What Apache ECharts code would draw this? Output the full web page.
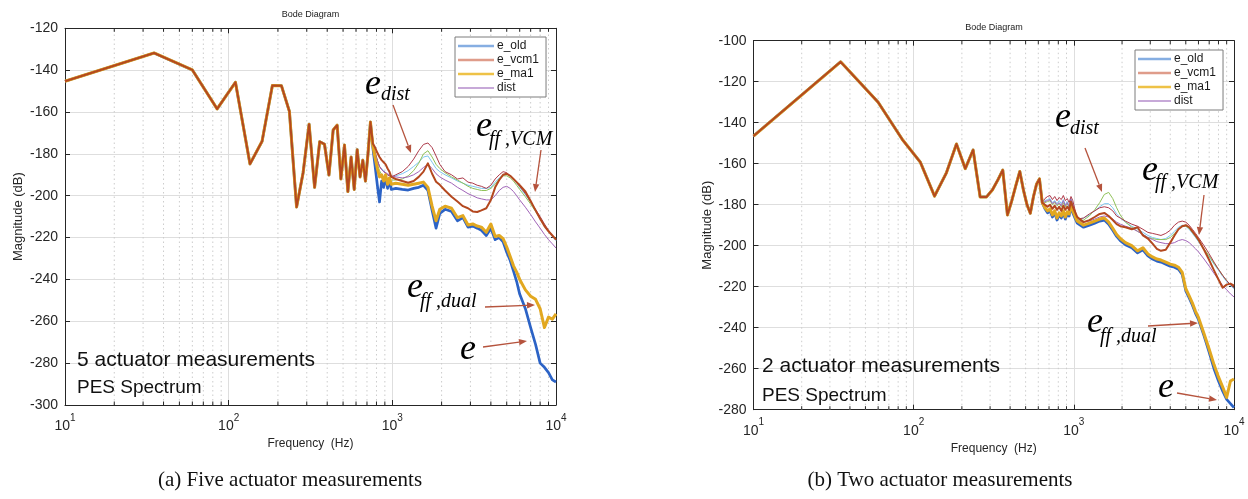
<!DOCTYPE html>
<html>
<head>
<meta charset="utf-8">
<script src="https://cdn.jsdelivr.net/npm/echarts@6/dist/echarts.min.js"></script>
<style>
  html, body { margin: 0; padding: 0; background: #ffffff; }
  #chart { width: 1248px; height: 499px; }
</style>
</head>
<body>
<div id="chart"></div>
<script>
// ---------------- data: PES spectra (dB) ----------------
// (a) five actuator measurements: all traces coincide below ~750 Hz
const fLowA = [10, 35, 60, 85, 110, 135, 160, 185, 210, 235, 260, 285, 310, 335, 360, 385, 410, 435, 460, 485,
               510, 535, 560, 585, 610, 635, 660, 685, 710, 735];
const commonA = [-145.3, -131.8, -139.9, -158.5, -145.8, -184.8, -174.0, -147.3, -147.4, -159.7,
                 -205.4, -189.0, -165.8, -196.0, -174.2, -175.4, -190.1, -168.6, -166.3, -192.0,
                 -175.8, -198.0, -181.5, -197.0, -178.0, -191.0, -183.0, -193.0, -180.0, -164.8];
const fHighA = [760, 785, 810, 835, 860, 885, 910, 935, 960, 985,
                1050, 1150, 1250, 1350, 1450, 1550, 1650, 1750, 1850, 1950,
                2100, 2300, 2500, 2700, 2900, 3100, 3300, 3500, 3750,
                4000, 4250, 4500, 4750, 5000, 5250, 5500, 5750,
                6000, 6500, 7000, 7500, 8000, 8500, 9000, 9500, 10000];
const eOldA = [-177, -186, -195, -203, -193, -196, -191, -196.5, -192.5, -197,
               -196.5, -197, -197.3, -196.5, -196, -195, -197.5, -207, -215.5, -208.5,
               -206.5, -207.5, -212, -210.5, -215, -214.5, -215.5, -216.5, -219,
               -215.5, -221, -220, -222, -227, -231, -236, -241,
               -247, -254, -263, -271, -280, -282, -284.5, -288, -289];
const eVcm1A = [-175, -177, -179.5, -181.5, -183, -184, -185, -187, -188.5, -191,
                -192, -193, -193.8, -193, -191, -188.5, -184.5, -189.5, -193.3, -194.8,
                -197.5, -200.5, -202.8, -205, -206, -207.5, -207.8, -207, -206,
                -202, -196, -192.5, -190, -189.5, -190.5, -192, -193.5,
                -195, -198, -202.5, -207, -211, -214.5, -217, -219, -221];
const eMa1A = [-176, -182, -187, -191, -190, -193, -190, -194.5, -191.5, -194.5,
               -194, -194.5, -195, -194.5, -194, -193.5, -196, -205, -212, -206.5,
               -205, -206, -210.5, -209.5, -214, -213.5, -214.5, -215, -217.5,
               -213.5, -219.5, -219, -220.5, -224.5, -229, -233.5, -236.5,
               -240, -245, -248, -249.5, -254, -263, -258, -259, -256.5];
const distA = [-176, -180, -183.5, -186, -187.5, -188.5, -189, -189.5, -190, -190.5,
               -191, -191.5, -191, -190, -188.5, -186.5, -185, -187, -189.5, -191,
               -192.5, -194, -196, -197.5, -199, -200, -201, -201.5, -202,
               -202, -200, -197.5, -196, -195.5, -196.5, -198, -200,
               -202, -205.5, -209, -212.5, -215.5, -218.5, -221, -223, -225];
const run2A = [-176, -180, -183, -186, -187, -188, -189, -190, -190.5, -191,
               -190.5, -189.5, -188, -186, -184, -181.5, -181, -184, -187, -188.5,
               -190, -191.5, -193, -194, -195, -195.5, -196, -196.5, -196.5,
               -196, -193.5, -191.5, -190, -189.5, -190.5, -192, -194,
               -196, -199.5, -203, -207, -210.5, -214, -217, -219.5, -221.5];
const run3A = [-176, -181, -185, -188, -190, -191, -191.5, -192, -192.5, -192.5,
               -192.5, -192, -190.5, -188, -184.5, -180, -178.5, -181.5, -185, -187,
               -189, -191, -192.5, -194, -195.5, -196.5, -197, -197.5, -197.5,
               -196.5, -194.5, -192, -190.5, -190.5, -191.5, -193, -195,
               -197, -200.5, -204, -207.5, -211, -214.5, -217, -219, -220.5];
const run4A = [-175, -179, -183, -186, -187.5, -188.5, -189, -190, -190.5, -191,
               -190, -188.5, -186, -182.5, -178.5, -175.5, -174.8, -177, -181, -185,
               -188.5, -190, -192, -191.5, -193.5, -194, -195, -195.5, -196.5,
               -195, -192, -190, -188.5, -189, -190.5, -192, -193.5,
               -195.5, -199, -203, -206.5, -210, -213.5, -216.5, -219, -221];

// (b) two actuator measurements: all traces coincide below ~650 Hz
const fLowB = [10, 35, 60, 85, 110, 135, 160, 185, 210, 235, 260, 285, 310, 335, 360, 385, 410, 435, 460, 485,
               510, 535, 560, 585, 610, 635];
const commonB = [-146.5, -110.3, -130.0, -148.2, -159.2, -175.8, -164.5, -150.4, -162.4, -153.3,
                 -176.2, -176.2, -172.8, -168.0, -163.1, -185.0, -178.0, -170.5, -163.8, -173.0,
                 -180.0, -184.2, -176.0, -170.0, -167.4, -179.0];
const fHighB = [660, 685, 710, 735, 760, 785, 810, 835, 860, 885, 910, 935, 960, 985,
                1050, 1150, 1250, 1350, 1450, 1550, 1650, 1750, 1850, 1950,
                2100, 2300, 2500, 2700, 2900, 3100, 3300, 3500, 3750,
                4000, 4250, 4500, 4750, 5000, 5250, 5500, 5750,
                6000, 6500, 7000, 7500, 8000, 8500, 9000, 9500, 10000];
const eOldB = [-182, -184, -183, -186, -184, -187.5, -185, -186.5, -184, -187, -184.5, -185.5, -180.5, -184,
               -189, -191, -190, -189, -188, -187.5, -189.5, -192.5, -195.5, -197.5,
               -199.5, -201, -203.5, -202, -205, -206.5, -207.5, -208, -209,
               -210, -210.5, -211.5, -214, -222, -225.5, -229, -233,
               -236, -244, -252, -260, -266, -271, -275, -277, -279];
const eVcm1B = [-180, -181, -180, -182, -180.5, -182.5, -181, -183, -180.5, -182.5, -181, -182.5, -178.5, -181,
                -186, -188.5, -187.5, -186, -184.5, -184, -185.5, -187.5, -189.5, -190.5,
                -191, -192, -191, -195, -196.5, -199, -201.5, -202.5, -202,
                -198.5, -195, -192, -190.5, -190, -191, -193, -195,
                -197, -202, -207, -212, -216.5, -220.5, -219, -218.5, -219.5];
const eMa1B = [-181.5, -183, -182, -185, -183, -186.5, -184, -185.5, -183, -186, -183.5, -184.5, -179.5, -183,
               -188, -190, -189, -188, -187, -186.5, -188.5, -191.5, -194.5, -196.5,
               -198.5, -200, -202.5, -201, -204, -205.5, -206.5, -207, -208,
               -209, -209.5, -210.5, -213, -221, -224.5, -228, -232,
               -235, -243, -250.5, -258, -264, -269, -274, -266, -265];
const distB = [-178.5, -178, -177.5, -179.5, -178.5, -180, -179, -180.5, -178, -180.5, -179, -181, -177.5, -180,
               -188, -188.5, -188, -187, -186, -185.5, -186, -187, -188.5, -189.5,
               -190.5, -191.5, -193, -194.5, -196, -197, -198, -198.5, -199,
               -199, -198.5, -197.5, -197, -197.5, -198.5, -200, -201.5,
               -203, -206.5, -210, -213.5, -216.5, -219.5, -221.5, -223.5, -225];
const run2B = [-178, -177.5, -177, -179, -178, -179.5, -178, -179.5, -177.5, -180, -178.5, -180.5, -177, -179.5,
               -187.5, -186.5, -185, -183, -181, -179.5, -179.5, -181.5, -184.5, -186.5,
               -188.5, -190.5, -192, -193.5, -195, -196, -196.5, -197, -196.5,
               -195, -193, -191, -190, -190.5, -192, -194, -196,
               -198, -202, -205.5, -209, -212, -215, -217.5, -219.5, -221];
const run3B = [-179, -178.5, -178, -180, -179, -180.5, -179.5, -181, -179, -181, -179.5, -181.5, -178, -180.5,
               -188, -187.5, -185.5, -182.5, -179, -175, -174, -177, -181.5, -185,
               -188.5, -191, -193, -194.5, -196, -196.5, -197, -197, -197,
               -196, -194, -192, -190.5, -190.5, -191.5, -193.5, -195.5,
               -197.5, -201.5, -205, -208.5, -211.5, -214.5, -217, -219, -220.5];
const run4B = [-177, -176, -175.5, -177.5, -176, -178, -176.5, -177.5, -175.5, -178, -177, -179, -176, -178,
               -187, -186.5, -184.5, -183, -181.5, -181, -181.5, -183, -185.5, -186.5,
               -188, -189.5, -190.5, -192, -193.5, -194, -194.5, -195, -194,
               -192.5, -190, -188.5, -188, -188.5, -190, -192, -194,
               -196, -200, -204, -208, -211.5, -214.5, -217, -219, -220.5];

// axis ticks and labels
const decadeExponents = ['1', '2', '3', '4'];
const minorTicks = [20, 30, 40, 50, 60, 70, 80, 90, 200, 300, 400, 500, 600, 700, 800, 900,
                    2000, 3000, 4000, 5000, 6000, 7000, 8000, 9000];
const legendNames = ['e_old', 'e_vcm1', 'e_ma1', 'dist'];

// ---------------- styling ----------------
const SANS = '"Liberation Sans", Arial, Helvetica, sans-serif';
const SERIF = '"Liberation Serif", "Times New Roman", serif';
const AXIS = '#262626';
const ARROW = '#b5533d';
const C = {
  blue: '#2c63c6', red: '#b4481f', yellow: '#e2a820', purple: '#a063b8',
  lightblue: '#7cc6ef', green: '#8fc158', maroon: '#ad3a4a'
};
const LEGEND_COLORS = {
  e_old: '#86aee2', e_vcm1: '#df9c8a', e_ma1: '#eec247', dist: '#b58ccb'
};
// flat bar glyphs used as legend line samples
const LEGEND_ICON_THICK = 'path://M0,0H36V2.6H0Z';
const LEGEND_ICON_THIN = 'path://M0,0H36V1.6H0Z';

const grids = [
  { left: 65, top: 28.3, width: 491, height: 376.7, yMin: -300, yMax: -120 },
  { left: 753.5, top: 40.7, width: 480.5, height: 369, yMin: -280, yMax: -100 }
];

function pairs(freqs, vals) { return freqs.map((f, i) => [f, vals[i]]); }

const panelData = [
  { fLow: fLowA, common: commonA, fHigh: fHighA,
    traces: { e_old: eOldA, e_vcm1: eVcm1A, e_ma1: eMa1A, run2: run2A, run3: run3A, run4: run4A, dist: distA } },
  { fLow: fLowB, common: commonB, fHigh: fHighB,
    traces: { e_old: eOldB, e_vcm1: eVcm1B, e_ma1: eMa1B, run2: run2B, run3: run3B, run4: run4B, dist: distB } }
];

// drawing order: thin traces underneath, then the three thick traces
const traceStyle = [
  ['run2', C.lightblue, 1], ['run3', C.green, 1], ['run4', C.maroon, 1], ['dist', C.purple, 1],
  ['e_old', C.blue, 2.7], ['e_ma1', C.yellow, 3], ['e_vcm1', C.red, 2]
];

const xAxes = [], yAxes = [], series = [];
grids.forEach((g, gi) => {
  xAxes.push({
    type: 'log', logBase: 10, min: 10, max: 10000, gridIndex: gi, position: 'bottom',
    axisLine: { show: true, onZero: false, lineStyle: { color: AXIS, width: 1 } },
    axisTick: { show: true, inside: true, length: 5, lineStyle: { color: AXIS } },
    axisLabel: {
      margin: 8, color: AXIS,
      formatter: v => '{b|10}{s|' + decadeExponents[Math.round(Math.log10(v)) - 1] + '}',
      rich: {
        b: { fontSize: 14, fontFamily: SANS, color: AXIS, lineHeight: 20, verticalAlign: 'bottom' },
        s: { fontSize: 10, fontFamily: SANS, color: AXIS, lineHeight: 20, verticalAlign: 'top' }
      }
    },
    splitLine: { show: true, lineStyle: { color: '#dedede', width: 1 } },
    name: 'Frequency  (Hz)', nameLocation: 'middle', nameGap: 31,
    nameTextStyle: { fontSize: 12, fontFamily: SANS, color: AXIS }
  });
  xAxes.push({
    type: 'log', logBase: 10, min: 10, max: 10000, gridIndex: gi, position: 'top',
    axisLine: { show: true, onZero: false, lineStyle: { color: AXIS, width: 1 } },
    axisTick: { show: true, inside: true, length: 5, lineStyle: { color: AXIS } },
    axisLabel: { show: false }, splitLine: { show: false }
  });
  yAxes.push({
    type: 'value', min: g.yMin, max: g.yMax, interval: 20, gridIndex: gi, position: 'left',
    axisLine: { show: true, onZero: false, lineStyle: { color: AXIS, width: 1 } },
    axisTick: { show: true, inside: true, length: 5, lineStyle: { color: AXIS } },
    axisLabel: { margin: 7, fontSize: 14, fontFamily: SANS, color: AXIS, formatter: v => String(v) },
    splitLine: { show: true, lineStyle: { color: '#dedede', width: 1 } },
    name: 'Magnitude (dB)', nameLocation: 'middle', nameGap: 40,
    nameTextStyle: { fontSize: 13, fontFamily: SANS, color: AXIS }
  });
  yAxes.push({
    type: 'value', min: g.yMin, max: g.yMax, interval: 20, gridIndex: gi, position: 'right',
    axisLine: { show: true, onZero: false, lineStyle: { color: AXIS, width: 1 } },
    axisTick: { show: true, inside: true, length: 5, lineStyle: { color: AXIS } },
    axisLabel: { show: false }, splitLine: { show: false }
  });

  // dotted minor grid with short inside ticks at bottom and top
  series.push({
    type: 'custom', xAxisIndex: gi * 2, yAxisIndex: gi * 2, z: 1, silent: true, clip: false,
    encode: { x: 0, y: 1 },
    data: minorTicks.map(f => [f, g.yMin]),
    renderItem: (params, api) => {
      const f = api.value(0);
      const b = api.coord([f, g.yMin]);
      const t = api.coord([f, g.yMax]);
      return {
        type: 'group', children: [
          { type: 'line', shape: { x1: b[0], y1: b[1], x2: t[0], y2: t[1] },
            style: { stroke: '#cccccc', lineWidth: 1, lineDash: [1.5, 3] } },
          { type: 'line', shape: { x1: b[0], y1: b[1], x2: b[0], y2: b[1] - 3.5 },
            style: { stroke: AXIS, lineWidth: 1 } },
          { type: 'line', shape: { x1: t[0], y1: t[1], x2: t[0], y2: t[1] + 3.5 },
            style: { stroke: AXIS, lineWidth: 1 } }
        ]
      };
    }
  });

  const pd = panelData[gi];
  const freqs = pd.fLow.concat(pd.fHigh);
  traceStyle.forEach(([name, color, width]) => {
    series.push({
      name, type: 'line', xAxisIndex: gi * 2, yAxisIndex: gi * 2,
      data: pairs(freqs, pd.common.concat(pd.traces[name])),
      symbol: 'none', showSymbol: false, z: 3,
      lineStyle: { color, width, join: 'round' }, itemStyle: { color },
      emphasis: { disabled: true }, animation: false
    });
  });
});

const legendData = legendNames.map(n => ({
  name: n,
  icon: n === 'dist' ? LEGEND_ICON_THIN : LEGEND_ICON_THICK,
  itemStyle: { color: LEGEND_COLORS[n], borderWidth: 0 }
}));
const legendBase = {
  orient: 'vertical', itemWidth: 36, itemHeight: 14, itemGap: 2, selectedMode: false,
  symbolKeepAspect: true,
  padding: [3, 7, 3, 3], borderColor: '#7c7c7c', borderWidth: 1, backgroundColor: '#ffffff',
  textStyle: { fontSize: 12, fontFamily: SANS, color: '#1a1a1a', padding: [0, 0, 0, -2] },
  data: legendData
};

// ---------------- annotations ----------------
function textEl(text, x, baseline, size, opts) {
  opts = opts || {};
  return {
    type: 'text', silent: true, z: 100,
    style: {
      text, x, y: baseline - 0.34 * size,
      font: (opts.style || 'normal') + ' ' + (opts.weight || 'normal') + ' ' + size + 'px ' + (opts.family || SANS),
      fill: opts.color || '#111111', align: opts.align || 'left', verticalAlign: 'middle'
    }
  };
}
function symbolLabel(x, baseline, sub, subX, subBaseline) {
  const out = [textEl('e', x, baseline, 36, { style: 'italic', family: SERIF, color: '#000' })];
  if (sub) out.push(textEl(sub, subX, subBaseline, 20, { style: 'italic', family: SERIF, color: '#000' }));
  return out;
}
function arrow(x1, y1, x2, y2) {
  const a = Math.atan2(y2 - y1, x2 - x1), L = 8, W = 3.2;
  const bx = x2 - L * Math.cos(a), by = y2 - L * Math.sin(a);
  const px = -Math.sin(a) * W, py = Math.cos(a) * W;
  return [
    { type: 'line', silent: true, z: 100, shape: { x1, y1, x2: bx, y2: by },
      style: { stroke: ARROW, lineWidth: 1.3 } },
    { type: 'polygon', silent: true, z: 100,
      shape: { points: [[x2, y2], [bx + px, by + py], [bx - px, by - py]] }, style: { fill: ARROW } }
  ];
}

const graphics = [].concat(
  textEl('Bode Diagram', 310.5, 18, 9, { align: 'center', color: '#222' }),
  textEl('Bode Diagram', 994, 31, 9, { align: 'center', color: '#222' }),

  symbolLabel(365, 97, 'dist', 381, 102),
  arrow(393, 105, 411, 153),
  symbolLabel(476, 139, 'ff ,VCM', 489, 147),
  arrow(541, 150, 535, 192),
  symbolLabel(407, 300, 'ff ,dual', 420, 309),
  arrow(485, 307, 535, 305),
  symbolLabel(460, 362),
  arrow(483, 347, 527, 341),
  textEl('5 actuator measurements', 77, 367, 21),
  textEl('PES Spectrum', 77, 394, 19),

  symbolLabel(1055, 130, 'dist', 1070, 136),
  arrow(1085, 148, 1102, 192),
  symbolLabel(1142, 183, 'ff ,VCM', 1155, 190),
  arrow(1204, 195, 1199, 235),
  symbolLabel(1087, 335, 'ff ,dual', 1100, 344),
  arrow(1148, 326, 1198, 323),
  symbolLabel(1158, 400),
  arrow(1177, 393, 1217, 400),
  textEl('2 actuator measurements', 762, 373, 21),
  textEl('PES Spectrum', 762, 402, 19),

  textEl('(a) Five actuator measurements', 290, 488, 21, { align: 'center', family: SERIF, color: '#111' }),
  textEl('(b) Two actuator measurements', 940, 488, 21, { align: 'center', family: SERIF, color: '#111' })
);

const chart = echarts.init(document.getElementById('chart'), null, { renderer: 'canvas' });
chart.setOption({
  backgroundColor: '#ffffff',
  animation: false,
  grid: grids.map(g => ({ left: g.left, top: g.top, width: g.width, height: g.height, containLabel: false })),
  xAxis: xAxes,
  yAxis: yAxes,
  legend: [
    Object.assign({}, legendBase, { left: 455, top: 37 }),
    Object.assign({}, legendBase, { left: 1135, top: 50, itemWidth: 33 })
  ],
  series,
  graphic: graphics
});
</script>
</body>
</html>
